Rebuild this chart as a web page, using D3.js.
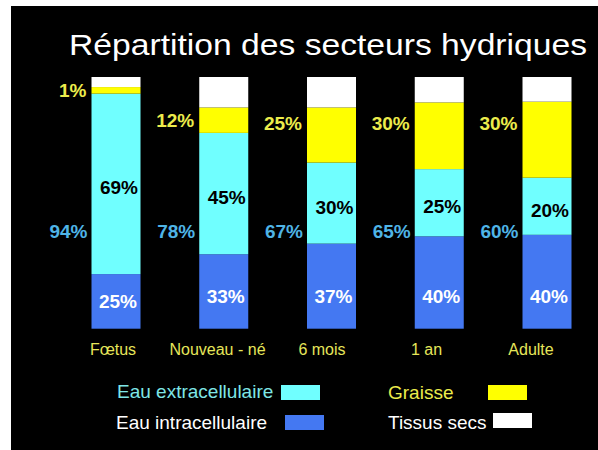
<!DOCTYPE html>
<html>
<head>
<meta charset="utf-8">
<script src="https://cdn.jsdelivr.net/npm/d3@7"></script>
<style>
  body { margin: 0; background: #fff; }
  text { font-family: 'Liberation Sans', Arial, sans-serif; }
</style>
</head>
<body>
<svg id="chart" width="598" height="450"></svg>
<script>
const categories = ['Fœtus', 'Nouveau - né', '6 mois', '1 an', 'Adulte'];

// segment heights as drawn (% of bar)
const intra = [21.7, 29.6, 33.8, 36.7, 37.3];
const extra = [71.7, 48.2, 32.2, 26.7, 22.7];
const graisse = [2.6, 10.1, 21.9, 26.5, 30.2];
const secs = [4.0, 12.1, 12.1, 10.1, 9.8];

const intraLabels = ['25%', '33%', '37%', '40%', '40%'];
const extraLabels = ['69%', '45%', '30%', '25%', '20%'];
const graisseLabels = ['1%', '12%', '25%', '30%', '30%'];
const totalLabels = ['94%', '78%', '67%', '65%', '60%'];

const keys = ['intra', 'extra', 'graisse', 'secs'];
const colors = {
  intra: '#4478f2',
  extra: '#70ffff',
  graisse: '#ffff00',
  secs: '#ffffff',
};

const rows = categories.map((c, i) => ({
  cat: c,
  intra: intra[i],
  extra: extra[i],
  graisse: graisse[i],
  secs: secs[i],
}));

const svg = d3.select('#chart');

svg.append('rect')
  .attr('x', 11).attr('y', 6)
  .attr('width', 587).attr('height', 444)
  .attr('fill', '#000');

svg.append('text')
  .attr('x', 69).attr('y', 55)
  .attr('textLength', 518)
  .attr('lengthAdjust', 'spacingAndGlyphs')
  .style('font-size', '30px')
  .attr('fill', '#fff')
  .text('Répartition des secteurs hydriques');

const x = d3.scalePoint().domain(categories).range([116, 547]);
const xLabel = d3.scalePoint().domain(categories).range([113, 531]);
const y = d3.scaleLinear().domain([0, 100]).range([328.7, 77]);
const barW = 49;

const series = d3.stack().keys(keys)(rows);

svg.selectAll('g.layer')
  .data(series)
  .enter()
  .append('g')
  .attr('class', 'layer')
  .attr('fill', d => colors[d.key])
  .selectAll('rect')
  .data(d => d)
  .enter()
  .append('rect')
  .attr('x', d => x(d.data.cat) - barW / 2)
  .attr('y', d => y(d[1]))
  .attr('width', barW)
  .attr('height', d => y(d[0]) - y(d[1]));

const byKey = k => series.find(s => s.key === k);
const mid = d => (y(d[0]) + y(d[1])) / 2;

const lbl = (sel, fill) => sel
  .style('font-size', '19px')
  .style('font-weight', 'bold')
  .attr('dy', '0.35em')
  .attr('fill', fill);

// intracellulaire
svg.selectAll('text.intra')
  .data(byKey('intra'))
  .enter()
  .append('text')
  .attr('class', 'intra')
  .attr('x', d => x(d.data.cat) + 2)
  .attr('y', d => Math.max(mid(d), y(13)))
  .attr('text-anchor', 'middle')
  .text((d, i) => intraLabels[i])
  .call(lbl, '#fff');

// extracellulaire
svg.selectAll('text.extra')
  .data(byKey('extra'))
  .enter()
  .append('text')
  .attr('class', 'extra')
  .attr('x', d => x(d.data.cat) + 3)
  .attr('y', d => mid(d) + 4)
  .attr('text-anchor', 'middle')
  .text((d, i) => extraLabels[i])
  .call(lbl, '#000');

// graisse
svg.selectAll('text.graisse')
  .data(byKey('graisse'))
  .enter()
  .append('text')
  .attr('class', 'graisse')
  .attr('x', d => x(d.data.cat) - barW / 2 - 5)
  .attr('y', d => Math.min(mid(d), y(81.5)))
  .attr('text-anchor', 'end')
  .text((d, i) => graisseLabels[i])
  .call(lbl, '#ecec4c');

// eau totale
svg.selectAll('text.total')
  .data(categories)
  .enter()
  .append('text')
  .attr('class', 'total')
  .attr('x', d => x(d) - barW / 2 - 4)
  .attr('y', y(38.8))
  .attr('text-anchor', 'end')
  .text((d, i) => totalLabels[i])
  .call(lbl, '#4fb4e6');

// categories
svg.selectAll('text.cat')
  .data(categories)
  .enter()
  .append('text')
  .attr('class', 'cat')
  .attr('x', d => xLabel(d))
  .attr('y', 349)
  .attr('dy', '0.35em')
  .attr('text-anchor', 'middle')
  .style('font-size', '16px')
  .attr('fill', '#e6e65a')
  .text(d => d);

// legend
const legend = [
  { key: 'extra', text: 'Eau extracellulaire', color: '#7ee6e6', tx: 117, ty: 391, sx: 281, sy: 385 },
  { key: 'intra', text: 'Eau intracellulaire', color: '#fff', tx: 116, ty: 422, sx: 285, sy: 415 },
  { key: 'graisse', text: 'Graisse', color: '#ecec4c', tx: 388, ty: 392, sx: 488, sy: 385 },
  { key: 'secs', text: 'Tissus secs', color: '#fff', tx: 388, ty: 422, sx: 493, sy: 413 },
];

const lg = svg.selectAll('g.legend')
  .data(legend)
  .enter()
  .append('g')
  .attr('class', 'legend');

lg.append('text')
  .attr('x', d => d.tx)
  .attr('y', d => d.ty)
  .attr('dy', '0.35em')
  .style('font-size', '19px')
  .attr('fill', d => d.color)
  .text(d => d.text);

lg.append('rect')
  .attr('x', d => d.sx)
  .attr('y', d => d.sy)
  .attr('width', 39)
  .attr('height', 15)
  .attr('fill', d => colors[d.key]);
</script>
</body>
</html>
